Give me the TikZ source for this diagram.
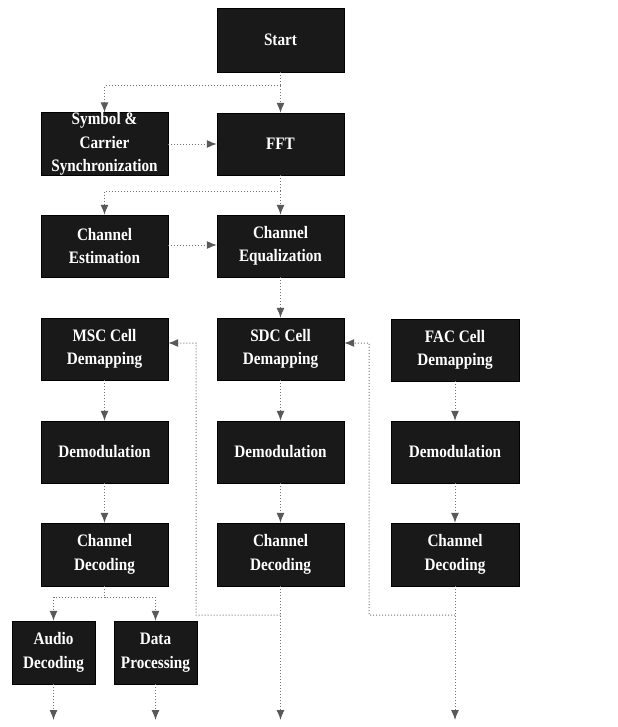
\documentclass[tikz,border=0pt]{standalone}
\usepackage{fontspec}
\setmainfont{Liberation Serif}[FakeStretch=0.87]
\usetikzlibrary{arrows.meta}
\definecolor{boxfill}{gray}{0.1}
\definecolor{linegray}{gray}{0.45}
\definecolor{tipgray}{gray}{0.35}
\tikzset{
  blk/.style={draw=black, fill=boxfill, text=white, minimum width=127bp, minimum height=62bp,
    inner sep=0pt, align=center, font=\bfseries\fontsize{17.5bp}{23.5bp}\selectfont},
  smallblk/.style={blk, minimum width=83bp, minimum height=63bp},
  link/.style={draw=linegray, dotted, line width=1bp},
  arr/.style={link, -{Latex[length=10bp,width=8bp,fill=tipgray,color=tipgray]}}
}
\begin{document}
\begin{tikzpicture}[x=1bp,y=-1bp]
\useasboundingbox (0,0) rectangle (618,727);
% nodes
\node[blk, minimum height=64bp] (start) at (280.5,40) {Start};
\node[blk] (sync) at (104.5,144) {Symbol \&\\Carrier\\Synchronization};
\node[blk] (fft) at (280.5,144) {FFT};
\node[blk] (est) at (104.5,246) {Channel\\Estimation};
\node[blk] (eq) at (280.5,246) {Channel\\Equalization};
\node[blk] (msc) at (104.5,349) {MSC Cell\\Demapping};
\node[blk] (sdc) at (280.5,349) {SDC Cell\\Demapping};
\node[blk, minimum width=128bp] (fac) at (455,350) {FAC Cell\\Demapping};
\node[blk] (dem1) at (104.5,452) {Demodulation};
\node[blk] (dem2) at (280.5,452) {Demodulation};
\node[blk, minimum width=128bp] (dem3) at (455,452) {Demodulation};
\node[blk, minimum height=63bp] (dec1) at (104.5,554.5) {Channel\\Decoding};
\node[blk, minimum height=63bp] (dec2) at (280.5,554.5) {Channel\\Decoding};
\node[blk, minimum height=63bp, minimum width=128bp] (dec3) at (455,554.5) {Channel\\Decoding};
\node[smallblk] (audio) at (53.5,652.5) {Audio\\Decoding};
\node[smallblk] (data) at (155.5,652.5) {Data\\Processing};
% junctions and free ends
\coordinate (j1) at (280.5,86);
\coordinate (j2) at (280.5,191);
\coordinate (j3) at (104.5,597);
\coordinate (f1) at (280.5,615);
\coordinate (f2) at (455,615);
\coordinate (fa) at (196,343);
\coordinate (fb) at (369,343);
\coordinate (e1) at (53.5,720);
\coordinate (e2) at (155.5,720);
\coordinate (e3) at (280.5,720);
\coordinate (e4) at (455,720);
% connectors
\draw[link] (start.south) -- (j1);
\draw[arr] (j1) -- (fft.north);
\draw[arr] (j1) -| (sync.north);
\draw[arr] (sync.east) -- (fft.west);
\draw[link] (fft.south) -- (j2);
\draw[arr] (j2) -- (eq.north);
\draw[arr] (j2) -| (est.north);
\draw[arr] ([yshift=1bp]est.east) -- ([yshift=1bp]eq.west);
\draw[arr] (eq.south) -- (sdc.north);
\draw[arr] (msc.south) -- (dem1.north);
\draw[arr] (dem1.south) -- (dec1.north);
\draw[arr] (sdc.south) -- (dem2.north);
\draw[arr] (dem2.south) -- (dec2.north);
\draw[arr] (fac.south) -- (dem3.north);
\draw[arr] (dem3.south) -- (dec3.north);
\draw[link] (dec1.south) -- (j3);
\draw[arr] (j3) -| (audio.north);
\draw[arr] (j3) -| (data.north);
\draw[arr] (audio.south) -- (e1);
\draw[arr] (data.south) -- (e2);
\draw[arr] (dec2.south) -- (e3);
\draw[arr] (dec3.south) -- (e4);
\draw[arr] (f1) -| (fa) -- ([yshift=6bp]msc.east);
\draw[arr] (f2) -| (fb) -- ([yshift=6bp]sdc.east);
\end{tikzpicture}
\end{document}
